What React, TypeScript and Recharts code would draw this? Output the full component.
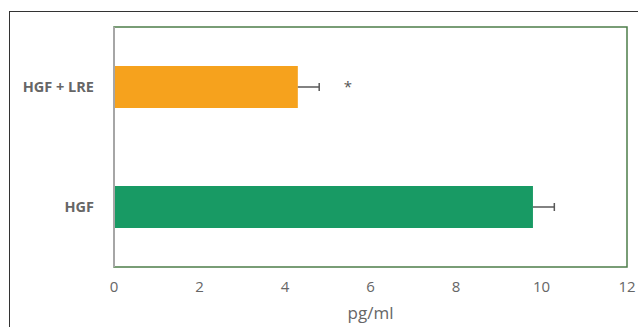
import React from 'react';
import {
  BarChart,
  Bar,
  XAxis,
  YAxis,
  Cell,
  LabelList,
  ReferenceArea,
  Rectangle,
} from 'recharts';

const groups = ['HGF + LRE', 'HGF'];
const values = [4.3, 9.8];
const errors = [0.5, 0.5];
const marks = ['*', ''];
const colors = ['#F6A21D', '#189A64'];
const xTicks = [0, 2, 4, 6, 8, 10, 12];

const data = groups.map((g, i) => ({
  name: g,
  value: values[i],
  err: errors[i],
  sig: marks[i],
}));

const font = '"Open Sans", "Liberation Sans", sans-serif';

// bar plus a one-sided (upper) error whisker, length taken from the bar's own px/unit
function BarWithWhisker(props: any) {
  const { x, y, width, height, payload, fill } = props;
  const pxPerUnit = width / payload.value;
  const x0 = x + width;
  const x1 = x0 + payload.err * pxPerUnit;
  const cy = y + height / 2;
  return (
    <g>
      <Rectangle x={x} y={y} width={width} height={height} fill={fill} />
      <line x1={x0} y1={cy} x2={x1} y2={cy} stroke="#595959" strokeWidth={1.5} />
      <line x1={x1} y1={cy - 4} x2={x1} y2={cy + 4} stroke="#595959" strokeWidth={1.5} />
    </g>
  );
}

export default function App() {
  return (
    <div style={{ position: 'absolute', left: 0, top: 0, width: 638, height: 327, background: '#fff' }}>
      <div
        style={{
          position: 'absolute',
          left: 9,
          top: 11,
          right: 0,
          bottom: 0,
          borderTop: '1.5px solid #333',
          borderLeft: '1.5px solid #333',
        }}
      />
      <BarChart
        width={638}
        height={327}
        layout="vertical"
        data={data}
        margin={{ top: 27, right: 11, bottom: 5, left: 0 }}
        barSize={42}
        style={{ position: 'absolute', left: 0, top: 0, fontFamily: font }}
      >
        <ReferenceArea
          x1={0}
          x2={12}
          fill="none"
          stroke="#4d7d4a"
          strokeWidth={1.5}
          ifOverflow="visible"
        />
        <XAxis
          type="number"
          domain={[0, 12]}
          ticks={xTicks}
          axisLine={false}
          tickLine={false}
          tickSize={0}
          tickMargin={14}
          height={55}
          tick={{ fontSize: 15, fill: '#666' }}
          label={{ value: 'pg/ml', position: 'insideBottom', offset: 3, fontSize: 17, fill: '#666' }}
        />
        <YAxis
          type="category"
          dataKey="name"
          width={114}
          tickLine={false}
          tickSize={0}
          tickMargin={20}
          axisLine={{ stroke: '#a6a6a6', strokeWidth: 2 }}
          tick={{ fontSize: 14.5, fontWeight: 700, fill: '#666' }}
        />
        <Bar dataKey="value" shape={BarWithWhisker} isAnimationActive={false}>
          {data.map((d, i) => (
            <Cell key={d.name} fill={colors[i]} />
          ))}
          <LabelList dataKey="sig" position="right" offset={46} fontSize={15} fill="#555" />
        </Bar>
      </BarChart>
    </div>
  );
}
